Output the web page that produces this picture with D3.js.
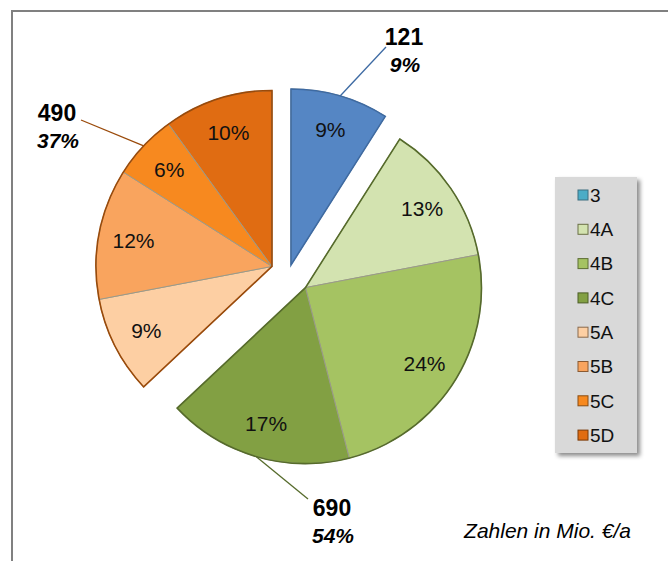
<!DOCTYPE html>
<html>
<head>
<meta charset="utf-8">
<script src="https://cdn.jsdelivr.net/npm/d3@7"></script>
<style>
  html, body { margin: 0; padding: 0; background: #fff; }
  svg { display: block; font-family: Arial, "Liberation Sans", sans-serif; }
</style>
</head>
<body>
<svg id="chart" width="668" height="561"></svg>
<script>
// Slice categories and their shares of the total (percent)
const categories = ["3", "4A", "4B", "4C", "5A", "5B", "5C", "5D"];
const shares = [9, 13, 24, 17, 9, 12, 6, 10];
const sliceGroup = ["3", "4", "4", "4", "5", "5", "5", "5"];

// Groups and their totals (Mio. €/a)
const groups = ["3", "4", "5"];
const groupTotals = [121, 690, 490];

const sliceColors = ["#5586c4", "#d3e3b0", "#a5c362", "#82a043", "#fdcfa3", "#f9a45e", "#f7891f", "#e06c12"];
const legendColors = ["#4bacc6", "#d3e3b0", "#a5c362", "#82a043", "#fdcfa3", "#f9a45e", "#f7891f", "#e06c12"];
const legendStroke = ["#3c6f80", "#6b7046", "#5d6e34", "#4c5e26", "#8a6a4c", "#8a5a32", "#8a4d12", "#7a3a08"];
const groupStroke = { "3": "#3d6aa3", "4": "#566b2b", "5": "#9a4a0a" };
const groupOffset = { "3": 9, "4": 22, "5": 18 };
// angle on the group's rim where the leader line starts, and label anchor
const groupLeader = {
  "3": { angleShare: 4.5, end: [386, 47], label: [404, 45] },
  "4": { angleShare: 54.5, end: [308, 499], label: [332, 516] },
  "5": { angleShare: 87, end: [81, 120], label: [57, 121] }
};

const svg = d3.select("#chart");
const cx = 288.5, cy = 273.6, R = 176, labelR = 141;

// outer frame (extends past the right and bottom edges)
svg.append("path")
  .attr("d", "M12,580 L12,11 L680,11")
  .attr("fill", "none").attr("stroke", "#808080").attr("stroke-width", 2);

const pie = d3.pie().sort(null).value(d => d.share).startAngle(0).endAngle(2 * Math.PI);
const slices = pie(categories.map((c, i) => ({ cat: c, share: shares[i], group: sliceGroup[i], color: sliceColors[i] })));

const total = d3.sum(shares);
const angleOf = s => s / total * 2 * Math.PI;

// group angular extents
const groupInfo = {};
groups.forEach(g => {
  const gs = slices.filter(s => s.data.group === g);
  const a0 = d3.min(gs, s => s.startAngle), a1 = d3.max(gs, s => s.endAngle);
  const mid = (a0 + a1) / 2, d = groupOffset[g];
  groupInfo[g] = { a0, a1, dx: Math.sin(mid) * d, dy: -Math.cos(mid) * d,
                   pct: d3.sum(gs, s => s.data.share) };
});

const arc = d3.arc().innerRadius(0).outerRadius(R);
const labelArc = d3.arc().innerRadius(labelR).outerRadius(labelR);

const pieG = svg.append("g").attr("transform", `translate(${cx},${cy})`);

// slices
pieG.selectAll("path.slice").data(slices).join("path")
  .attr("class", "slice")
  .attr("transform", d => `translate(${groupInfo[d.data.group].dx},${groupInfo[d.data.group].dy})`)
  .attr("d", arc)
  .attr("fill", d => d.data.color)
  .attr("stroke", "#9a9a8a").attr("stroke-width", 1).attr("stroke-linejoin", "round");

// group outlines
groups.forEach(g => {
  const gi = groupInfo[g];
  pieG.append("path")
    .attr("transform", `translate(${gi.dx},${gi.dy})`)
    .attr("d", arc({ startAngle: gi.a0, endAngle: gi.a1 }))
    .attr("fill", "none").attr("stroke", groupStroke[g]).attr("stroke-width", 1.6)
    .attr("stroke-linejoin", "miter");
});

// slice percentage labels
pieG.selectAll("text.pct").data(slices).join("text")
  .attr("class", "pct")
  .attr("transform", d => {
    const gi = groupInfo[d.data.group];
    const [x, y] = labelArc.centroid(d);
    return `translate(${x + gi.dx},${y + gi.dy})`;
  })
  .attr("text-anchor", "middle").attr("dy", "0.36em")
  .attr("font-size", 21).attr("fill", "#111")
  .text(d => d.data.share + "%");

// group leader lines and totals
groups.forEach((g, i) => {
  const gi = groupInfo[g], L = groupLeader[g];
  const a = angleOf(L.angleShare);
  const x0 = cx + gi.dx + Math.sin(a) * R, y0 = cy + gi.dy - Math.cos(a) * R;
  svg.append("line")
    .attr("x1", x0).attr("y1", y0).attr("x2", L.end[0]).attr("y2", L.end[1])
    .attr("stroke", groupStroke[g]).attr("stroke-width", 1.3);
  svg.append("text")
    .attr("x", L.label[0]).attr("y", L.label[1])
    .attr("text-anchor", "middle").attr("font-size", 23).attr("font-weight", "bold").attr("fill", "#000")
    .text(groupTotals[i]);
  svg.append("text")
    .attr("x", L.label[0] + 1).attr("y", L.label[1] + 27)
    .attr("text-anchor", "middle").attr("font-size", 21).attr("font-weight", "bold")
    .attr("font-style", "italic").attr("fill", "#000")
    .text(gi.pct + "%");
});

// legend
const defs = svg.append("defs");
const f = defs.append("filter").attr("id", "shadow").attr("x", "-20%").attr("y", "-20%").attr("width", "140%").attr("height", "140%");
f.append("feDropShadow").attr("dx", 3).attr("dy", 3).attr("stdDeviation", 2).attr("flood-color", "#000").attr("flood-opacity", 0.45);

const lg = svg.append("g").attr("transform", "translate(555,177)");
lg.append("rect").attr("width", 82).attr("height", 276).attr("fill", "#d9d9d9").attr("filter", "url(#shadow)");
const step = 34.3;
const items = lg.selectAll("g.item").data(categories).join("g")
  .attr("class", "item")
  .attr("transform", (d, i) => `translate(23,${18 + i * step})`);
items.append("rect").attr("x", 0).attr("y", -5).attr("width", 10).attr("height", 10)
  .attr("fill", (d, i) => legendColors[i]).attr("stroke", (d, i) => legendStroke[i]).attr("stroke-width", 1);
items.append("text").attr("x", 12).attr("y", 0).attr("dy", "0.36em")
  .attr("font-size", 19).attr("fill", "#111").text(d => d);

// units note
svg.append("text").attr("x", 631).attr("y", 538).attr("text-anchor", "end")
  .attr("font-size", 21).attr("font-style", "italic").attr("fill", "#000")
  .text("Zahlen in Mio. €/a");
</script>
</body>
</html>
